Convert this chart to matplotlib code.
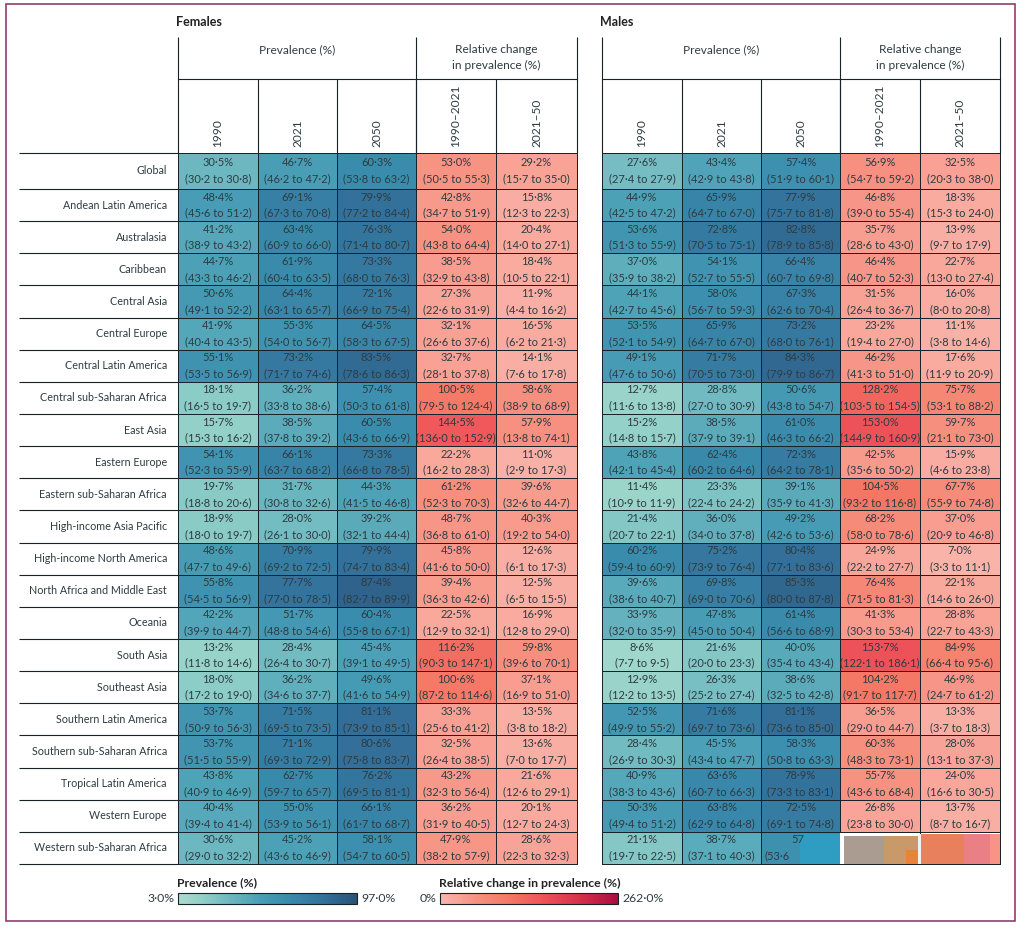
import numpy as np
import matplotlib
matplotlib.use("Agg")
import matplotlib.pyplot as plt
from matplotlib.colors import LinearSegmentedColormap, Normalize
from matplotlib.patches import Rectangle

plt.rcParams['font.family'] = ['Lato', 'DejaVu Sans']

regions = ["Global", "Andean Latin America", "Australasia", "Caribbean", "Central Asia", "Central Europe",
           "Central Latin America", "Central sub-Saharan Africa", "East Asia", "Eastern Europe",
           "Eastern sub-Saharan Africa", "High-income Asia Pacific", "High-income North America",
           "North Africa and Middle East", "Oceania", "South Asia", "Southeast Asia", "Southern Latin America",
           "Southern sub-Saharan Africa", "Tropical Latin America", "Western Europe", "Western sub-Saharan Africa"]

# (mean, lower, upper)
f_1990 = [(30.5, 30.2, 30.8), (48.4, 45.6, 51.2), (41.2, 38.9, 43.2), (44.7, 43.3, 46.2), (50.6, 49.1, 52.2),
          (41.9, 40.4, 43.5), (55.1, 53.5, 56.9), (18.1, 16.5, 19.7), (15.7, 15.3, 16.2), (54.1, 52.3, 55.9),
          (19.7, 18.8, 20.6), (18.9, 18.0, 19.7), (48.6, 47.7, 49.6), (55.8, 54.5, 56.9), (42.2, 39.9, 44.7),
          (13.2, 11.8, 14.6), (18.0, 17.2, 19.0), (53.7, 50.9, 56.3), (53.7, 51.5, 55.9), (43.8, 40.9, 46.9),
          (40.4, 39.4, 41.4), (30.6, 29.0, 32.2)]
f_2021 = [(46.7, 46.2, 47.2), (69.1, 67.3, 70.8), (63.4, 60.9, 66.0), (61.9, 60.4, 63.5), (64.4, 63.1, 65.7),
          (55.3, 54.0, 56.7), (73.2, 71.7, 74.6), (36.2, 33.8, 38.6), (38.5, 37.8, 39.2), (66.1, 63.7, 68.2),
          (31.7, 30.8, 32.6), (28.0, 26.1, 30.0), (70.9, 69.2, 72.5), (77.7, 77.0, 78.5), (51.7, 48.8, 54.6),
          (28.4, 26.4, 30.7), (36.2, 34.6, 37.7), (71.5, 69.5, 73.5), (71.1, 69.3, 72.9), (62.7, 59.7, 65.7),
          (55.0, 53.9, 56.1), (45.2, 43.6, 46.9)]
f_2050 = [(60.3, 53.8, 63.2), (79.9, 77.2, 84.4), (76.3, 71.4, 80.7), (73.3, 68.0, 76.3), (72.1, 66.9, 75.4),
          (64.5, 58.3, 67.5), (83.5, 78.6, 86.3), (57.4, 50.3, 61.8), (60.5, 43.6, 66.9), (73.3, 66.8, 78.5),
          (44.3, 41.5, 46.8), (39.2, 32.1, 44.4), (79.9, 74.7, 83.4), (87.4, 82.7, 89.9), (60.4, 55.8, 67.1),
          (45.4, 39.1, 49.5), (49.6, 41.6, 54.9), (81.1, 73.9, 85.1), (80.6, 75.8, 83.7), (76.2, 69.5, 81.1),
          (66.1, 61.7, 68.7), (58.1, 54.7, 60.5)]
f_chg_90_21 = [(53.0, 50.5, 55.3), (42.8, 34.7, 51.9), (54.0, 43.8, 64.4), (38.5, 32.9, 43.8), (27.3, 22.6, 31.9),
               (32.1, 26.6, 37.6), (32.7, 28.1, 37.8), (100.5, 79.5, 124.4), (144.5, 136.0, 152.9), (22.2, 16.2, 28.3),
               (61.2, 52.3, 70.3), (48.7, 36.8, 61.0), (45.8, 41.6, 50.0), (39.4, 36.3, 42.6), (22.5, 12.9, 32.1),
               (116.2, 90.3, 147.1), (100.6, 87.2, 114.6), (33.3, 25.6, 41.2), (32.5, 26.4, 38.5), (43.2, 32.3, 56.4),
               (36.2, 31.9, 40.5), (47.9, 38.2, 57.9)]
f_chg_21_50 = [(29.2, 15.7, 35.0), (15.8, 12.3, 22.3), (20.4, 14.0, 27.1), (18.4, 10.5, 22.1), (11.9, 4.4, 16.2),
               (16.5, 6.2, 21.3), (14.1, 7.6, 17.8), (58.6, 38.9, 68.9), (57.9, 13.8, 74.1), (11.0, 2.9, 17.3),
               (39.6, 32.6, 44.7), (40.3, 19.2, 54.0), (12.6, 6.1, 17.3), (12.5, 6.5, 15.5), (16.9, 12.8, 29.0),
               (59.8, 39.6, 70.1), (37.1, 16.9, 51.0), (13.5, 3.8, 18.2), (13.6, 7.0, 17.7), (21.6, 12.6, 29.1),
               (20.1, 12.7, 24.3), (28.6, 22.3, 32.3)]

m_1990 = [(27.6, 27.4, 27.9), (44.9, 42.5, 47.2), (53.6, 51.3, 55.9), (37.0, 35.9, 38.2), (44.1, 42.7, 45.6),
          (53.5, 52.1, 54.9), (49.1, 47.6, 50.6), (12.7, 11.6, 13.8), (15.2, 14.8, 15.7), (43.8, 42.1, 45.4),
          (11.4, 10.9, 11.9), (21.4, 20.7, 22.1), (60.2, 59.4, 60.9), (39.6, 38.6, 40.7), (33.9, 32.0, 35.9),
          (8.6, 7.7, 9.5), (12.9, 12.2, 13.5), (52.5, 49.9, 55.2), (28.4, 26.9, 30.3), (40.9, 38.3, 43.6),
          (50.3, 49.4, 51.2), (21.1, 19.7, 22.5)]
m_2021 = [(43.4, 42.9, 43.8), (65.9, 64.7, 67.0), (72.8, 70.5, 75.1), (54.1, 52.7, 55.5), (58.0, 56.7, 59.3),
          (65.9, 64.7, 67.0), (71.7, 70.5, 73.0), (28.8, 27.0, 30.9), (38.5, 37.9, 39.1), (62.4, 60.2, 64.6),
          (23.3, 22.4, 24.2), (36.0, 34.0, 37.8), (75.2, 73.9, 76.4), (69.8, 69.0, 70.6), (47.8, 45.0, 50.4),
          (21.6, 20.0, 23.3), (26.3, 25.2, 27.4), (71.6, 69.7, 73.6), (45.5, 43.4, 47.7), (63.6, 60.7, 66.3),
          (63.8, 62.9, 64.8), (38.7, 37.1, 40.3)]
# last row of the male 2050 column onwards is covered by a smudge in the source picture
m_2050 = [(57.4, 51.9, 60.1), (77.9, 75.7, 81.8), (82.8, 78.9, 85.8), (66.4, 60.7, 69.8), (67.3, 62.6, 70.4),
          (73.2, 68.0, 76.1), (84.3, 79.9, 86.7), (50.6, 43.8, 54.7), (61.0, 46.3, 66.2), (72.3, 64.2, 78.1),
          (39.1, 35.9, 41.3), (49.2, 42.6, 53.6), (80.4, 77.1, 83.6), (85.3, 80.0, 87.8), (61.4, 56.6, 68.9),
          (40.0, 35.4, 43.4), (38.6, 32.5, 42.8), (81.1, 73.6, 85.0), (58.3, 50.8, 63.3), (78.9, 73.3, 83.1),
          (72.5, 69.1, 74.8), (57.0, 53.6, None)]
m_chg_90_21 = [(56.9, 54.7, 59.2), (46.8, 39.0, 55.4), (35.7, 28.6, 43.0), (46.4, 40.7, 52.3), (31.5, 26.4, 36.7),
               (23.2, 19.4, 27.0), (46.2, 41.3, 51.0), (128.2, 103.5, 154.5), (153.0, 144.9, 160.9), (42.5, 35.6, 50.2),
               (104.5, 93.2, 116.8), (68.2, 58.0, 78.6), (24.9, 22.2, 27.7), (76.4, 71.5, 81.3), (41.3, 30.3, 53.4),
               (153.7, 122.1, 186.1), (104.2, 91.7, 117.7), (36.5, 29.0, 44.7), (60.3, 48.3, 73.1), (55.7, 43.6, 68.4),
               (26.8, 23.8, 30.0), (np.nan, None, None)]
m_chg_21_50 = [(32.5, 20.3, 38.0), (18.3, 15.3, 24.0), (13.9, 9.7, 17.9), (22.7, 13.0, 27.4), (16.0, 8.0, 20.8),
               (11.1, 3.8, 14.6), (17.6, 11.9, 20.9), (75.7, 53.1, 88.2), (59.7, 21.1, 73.0), (15.9, 4.6, 23.8),
               (67.7, 55.9, 74.8), (37.0, 20.9, 46.8), (7.0, 3.3, 11.1), (22.1, 14.6, 26.0), (28.8, 22.7, 43.3),
               (84.9, 66.4, 95.6), (46.9, 24.7, 61.2), (13.3, 3.7, 18.3), (28.0, 13.1, 37.3), (24.0, 16.6, 30.5),
               (13.7, 8.7, 16.7), (np.nan, None, None)]

year_labels = ["1990", "2021", "2050", "1990\u20132021", "2021\u201350"]

INK = '#16242a'
TEXT = '#2e3c42'
CELL_FS = 8.0
LABEL_FS = 7.75
HEAD_FS = 8.6

prev_cmap = LinearSegmentedColormap.from_list('prev', [(0.0, '#aadccf'), (0.13, '#94d1c8'), (0.29, '#6db8c0'),
                                                       (0.46, '#4a9fb6'), (0.61, '#3a8cad'), (0.82, '#33709a'),
                                                       (1.0, '#2a5378')])
chg_cmap = LinearSegmentedColormap.from_list('chg', [(0.0, '#fab7ae'), (0.19, '#f79485'), (0.38, '#f57a66'),
                                                     (0.57, '#f0555a'), (0.78, '#d8304a'), (1.0, '#ab0f3f')])
prev_norm = Normalize(3.0, 97.0)
chg_norm = Normalize(0.0, 262.0)

row_edges = np.r_[153, np.linspace(189, 864, 22)]


def fmt(v):
    return f"{v:.1f}".replace('.', '\u00b7')


def draw_cells(ax, x_edges, columns, cmap, norm):
    values = np.array([[c[0] for c in col] for col in columns], dtype=float).T
    ax.pcolormesh(x_edges, row_edges, np.ma.masked_invalid(values), cmap=cmap, norm=norm,
                  edgecolors=INK, linewidth=0.55)
    for j, col in enumerate(columns):
        cx = (x_edges[j] + x_edges[j + 1]) / 2
        for i, (mean, lo, hi) in enumerate(col):
            if lo is None:
                continue
            cy = (row_edges[i] + row_edges[i + 1]) / 2
            if hi is None:
                # half hidden cell
                ax.text(cx - 3, cy - 8, f"{mean:.0f}", ha='center', va='center', fontsize=CELL_FS, color=TEXT)
                ax.text(cx - 36, cy + 8, "(" + fmt(lo), ha='left', va='center', fontsize=CELL_FS, color=TEXT, zorder=4)
                continue
            ax.text(cx, cy - 8, fmt(mean) + "%", ha='center', va='center', fontsize=CELL_FS, color=TEXT)
            ax.text(cx, cy + 8, f"({fmt(lo)} to {fmt(hi)})", ha='center', va='center', fontsize=CELL_FS, color=TEXT)


def draw_header(ax, title, x_edges):
    ax.text(x_edges[0] - 2, 22, title, ha='left', va='center', fontsize=9, fontweight='bold', color='#222222')
    ax.text((x_edges[0] + x_edges[3]) / 2, 49.5, "Prevalence (%)", ha='center', va='center', fontsize=HEAD_FS, color=TEXT)
    ax.text((x_edges[3] + x_edges[5]) / 2, 57.5, "Relative change\nin prevalence (%)", ha='center', va='center',
            fontsize=HEAD_FS, color=TEXT, linespacing=1.6)
    ax.plot([x_edges[0], x_edges[5]], [79, 79], color=INK, lw=0.8)
    ax.vlines([x_edges[0], x_edges[3], x_edges[5]], 37, 153, color=INK, lw=0.8)
    ax.vlines(x_edges[1:5], 79, 153, color=INK, lw=0.8)
    for j, lab in enumerate(year_labels):
        cx = (x_edges[j] + x_edges[j + 1]) / 2
        ax.text(cx, 147, lab, rotation=90, ha='center', va='bottom', fontsize=HEAD_FS, color=TEXT)


def draw_legend(ax, x0, x1, title, lo_lab, hi_lab, cmap):
    grad = np.linspace(0, 1, 256).reshape(1, -1)
    ax.imshow(grad, extent=(x0, x1, 904, 893), cmap=cmap, aspect='auto', zorder=2)
    ax.add_patch(Rectangle((x0, 893), x1 - x0, 11, fill=False, ec=INK, lw=0.8, zorder=3))
    ax.text(x0 - 1, 883, title, ha='left', va='center', fontsize=8.8, fontweight='bold', color='#222222')
    ax.text(x0 - 3, 898.5, lo_lab, ha='right', va='center', fontsize=8.8, color=TEXT)
    ax.text(x1 + 4, 898.5, hi_lab, ha='left', va='center', fontsize=8.8, color=TEXT)


fig = plt.figure(figsize=(10.2, 9.25), dpi=100)
ax = fig.add_axes([0, 0, 1, 1])

female_x = np.array([178, 258, 337, 416, 496, 577])
male_x = np.array([602, 682, 761, 840, 920, 1000])

draw_cells(ax, female_x[:4], [f_1990, f_2021, f_2050], prev_cmap, prev_norm)
draw_cells(ax, female_x[3:], [f_chg_90_21, f_chg_21_50], chg_cmap, chg_norm)
draw_cells(ax, male_x[:4], [m_1990, m_2021, m_2050], prev_cmap, prev_norm)
draw_cells(ax, male_x[3:], [m_chg_90_21, m_chg_21_50], chg_cmap, chg_norm)

draw_header(ax, "Females", female_x)
draw_header(ax, "Males", male_x)

# row rules and region names
ax.hlines(row_edges, 19, female_x[0], color=INK, lw=0.8)
ax.hlines(row_edges, male_x[0], male_x[-1], color=INK, lw=0.6)
for i, name in enumerate(regions):
    cy = (row_edges[i] + row_edges[i + 1]) / 2
    ax.text(167, cy, name, ha='right', va='center', fontsize=LABEL_FS, color=TEXT)

# smudged corner of the source scan
ax.add_patch(Rectangle((800, 833.5), 40, 30, fc='#2f9cc2', ec='none', zorder=2))
ax.add_patch(Rectangle((840, 833), 4, 31, fc='#ffffff', ec='none', zorder=2))
ax.add_patch(Rectangle((844, 836), 40, 28, fc='#ab9c92', ec='none', zorder=2))
ax.add_patch(Rectangle((884, 836), 34, 28, fc='#c89a6a', ec='none', zorder=2))
ax.add_patch(Rectangle((906, 850), 12, 14, fc='#e98436', ec='none', zorder=2))
ax.add_patch(Rectangle((918, 834), 3, 30, fc='#f2f2f2', ec='none', zorder=2))
ax.add_patch(Rectangle((921, 834), 43, 30, fc='#e8805e', ec='none', zorder=2))
ax.add_patch(Rectangle((964, 834), 26, 30, fc='#ea7f85', ec='none', zorder=2))
ax.add_patch(Rectangle((990, 834), 10, 30, fc='#f79485', ec='none', zorder=2))
ax.plot([840, 1000], [864, 864], color=INK, lw=0.6, zorder=3)

draw_legend(ax, 178, 357, "Prevalence (%)", "3\u00b70%", "97\u00b70%", prev_cmap)
draw_legend(ax, 440, 618, "Relative change in prevalence (%)", "0%", "262\u00b70%", chg_cmap)

# outer frame
ax.add_patch(Rectangle((6.5, 3.5), 1008.5, 917, fill=False, ec='#8a2c60', lw=1.1))

ax.set_xlim(0, 1020)
ax.set_ylim(925, 0)
ax.axis('off')

fig.savefig('out.png', dpi=100)
